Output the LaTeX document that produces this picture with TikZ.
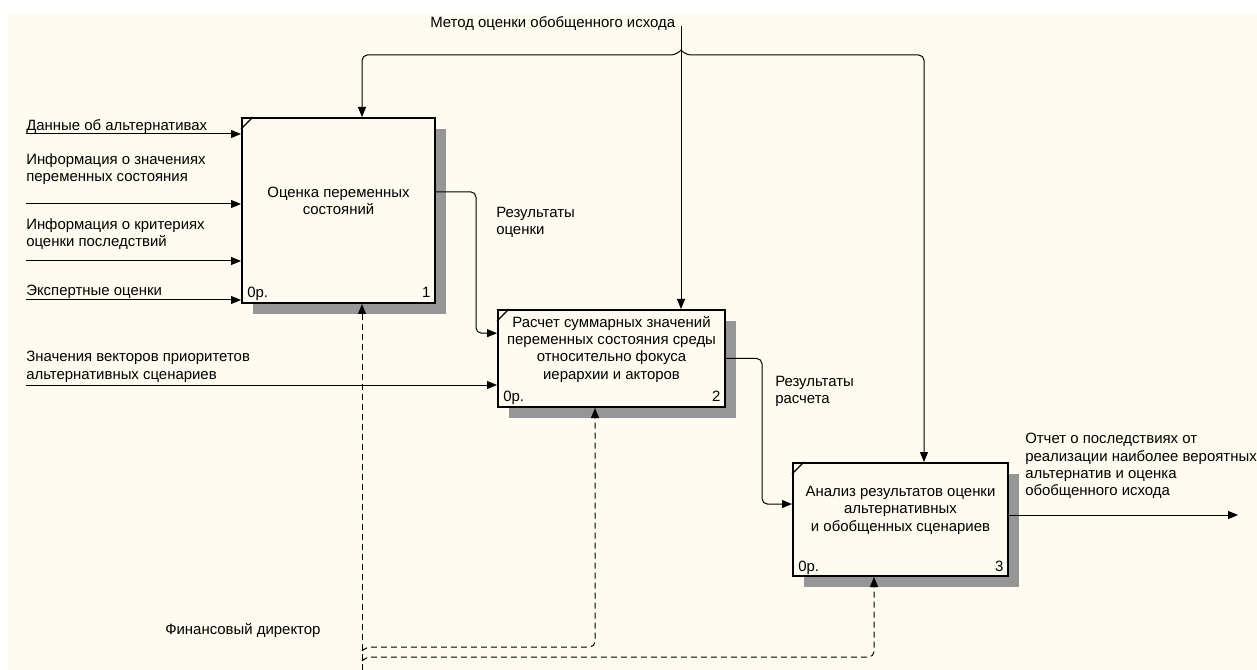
\documentclass[tikz,border=0pt]{standalone}
\usepackage{fontspec}
\setmainfont{Liberation Sans}
\usetikzlibrary{arrows.meta, positioning, shadows, calc}

\definecolor{paper}{RGB}{255,251,240}
\definecolor{shade}{RGB}{150,150,150}

\begin{document}
\begin{tikzpicture}[x=0.75pt, y=-0.75pt,
        font=\fontsize{11.2}{13}\selectfont,
        box/.style={rectangle, draw, line width=1.5pt, fill=paper, inner sep=0pt,
            drop shadow={shadow xshift=8.25pt, shadow yshift=-8.25pt, fill=shade, opacity=1}},
        txt/.style={align=center, inner sep=0pt},
        lbl/.style={align=left, inner sep=0pt, anchor=north west},
        arrow/.style={-{Triangle[length=7.5pt, width=6pt]}, line width=0.75pt, rounded corners=4pt},
        mech/.style={arrow, dash pattern=on 4.5pt off 3pt},
        corner/.style={line width=1pt}
    ]

    % Rahmen
    \useasboundingbox (0,0) rectangle (1257,670);
    \fill[paper] (8,14) rectangle (1257,670);

    % Funktionen
    \node (b1) [box, minimum width=144.75pt, minimum height=138.75pt] at (338.5,210.5) {};
    \node (b2) [box, minimum width=170.25pt, minimum height=72.75pt] at (611.5,358.5) {};
    \node (b3) [box, minimum width=161.25pt, minimum height=84.75pt] at (900.5,519.5) {};

    \node (t1) [txt] at ([yshift=7pt]b1.center) {Оценка переменных\\состояний};
    \node (t2) [txt] at ([yshift=7pt]b2.center) {Расчет суммарных значений\\переменных состояния среды\\относительно фокуса\\иерархии и акторов};
    \node (t3) [txt] at ([yshift=7pt]b3.center) {Анализ результатов оценки\\альтернативных\\и обобщенных сценариев};

    \foreach \b/\n in {b1/1, b2/2, b3/3} {
        \draw[corner] ([yshift=-9pt]\b.north west) -- ([xshift=9pt]\b.north west);
        \node (z\n) [anchor=base west, inner sep=0pt] at ([shift={(4.5pt,4.5pt)}]\b.south west) {0р.};
        \node (n\n) [anchor=base east, inner sep=0pt] at ([shift={(-4pt,4.5pt)}]\b.south east) {\n};
    }

    % Eingaenge
    \coordinate (in1) at (26,134);
    \coordinate (in2) at (26,204);
    \coordinate (in3) at (26,261);
    \coordinate (in4) at (26,300);
    \coordinate (in5) at (26,385);

    \node (l1) [lbl] at (26,119) {Данные об альтернативах};
    \node (l2) [lbl] at (26,153) {Информация о значениях\\переменных состояния};
    \node (l3) [lbl] at (26,218) {Информация о критериях\\оценки последствий};
    \node (l4) [lbl] at (26,285) {Экспертные оценки};
    \node (l5) [lbl] at (26,351) {Значения векторов приоритетов\\альтернативных сценариев};

    \foreach \i in {1,...,4}
        \draw[arrow] (in\i) -- (in\i -| b1.west);
    \draw[arrow] (in5) -- (in5 -| b2.west);

    % Steuerung
    \node (l9) [lbl] at (430,16) {Метод оценки обобщенного исхода};
    \coordinate (ctl) at (681,26);
    \coordinate (cj) at (681,50);
    \coordinate (p1) at (362,0);
    \coordinate (p3) at (924,0);

    \draw[arrow] (ctl) -- (ctl |- b2.north);
    \draw[arrow] (cj) -- ++(-5,5) -| (p1 |- b1.north);
    \draw[arrow] (cj) -- ++(5,5) -| (p3 |- b3.north);

    % Ausgaenge
    \node (l6) [lbl] at (496,207) {Результаты\\оценки};
    \node (l7) [lbl] at (775,376) {Результаты\\расчета};
    \node (l8) [lbl] at (1025,433) {Отчет о последствиях от\\реализации наиболее вероятных\\альтернатив и оценка\\обобщенного исхода};
    \coordinate (out) at (1238,515);

    \draw[arrow] ([yshift=14pt]b1.east) -- ++(40,0) |- ([yshift=19pt]b2.west);
    \draw[arrow] (b2.east) -- ++(36,0) |- ([yshift=11.6pt]b3.west);
    \draw[arrow] (b3.east |- out) -- (out);

    % Mechanismus
    \node (l10) [lbl] at (165,623) {Финансовый директор};
    \coordinate (mech) at (362,670);
    \coordinate (mj1) at (362,651);
    \coordinate (mj2) at (362,661);
    \coordinate (q2) at (595,0);
    \coordinate (q3) at (874,0);

    \draw[mech] (mech) -- (p1 |- b1.south);
    \draw[mech] (mj1) -- ++(4,-4) -| (q2 |- b2.south);
    \draw[mech] (mj2) -- ++(4,-4) -| (q3 |- b3.south);

\end{tikzpicture}
\end{document}
